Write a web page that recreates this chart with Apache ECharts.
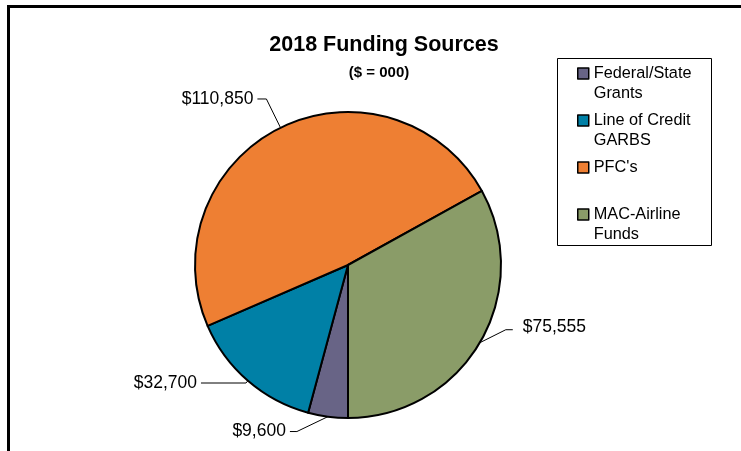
<!DOCTYPE html>
<html>
<head>
<meta charset="utf-8">
<title>2018 Funding Sources</title>
<script src="https://cdn.jsdelivr.net/npm/echarts@6/dist/echarts.min.js"></script>
<style>
  html, body { margin: 0; padding: 0; background: #fff; }
  #chart { width: 741px; height: 451px; }
</style>
</head>
<body>
<div id="chart"></div>
<script>
// Funding sources for 2018, in thousands of dollars
const categories = ['Federal/State Grants', 'Line of Credit GARBS', "PFC's", 'MAC-Airline Funds'];
const legendLines = ['Federal/State\nGrants', 'Line of Credit\nGARBS', "PFC's\n ", 'MAC-Airline\nFunds'];
const amounts = [9600, 32700, 110850, 75555];
const sliceColors = ['#686486', '#0080a6', '#ee7f33', '#8a9c68'];

const FONT = '"Liberation Sans", Arial, Helvetica, sans-serif';

// radial / horizontal leader lengths per slice
const leaderLen = [15, 3, 32, 5];
const leaderLen2 = [36, 45, 9, 10];

const fmtMoney = v => '$' + v.toLocaleString('en-US');

const chart = echarts.init(document.getElementById('chart'), null, { renderer: 'canvas' });

chart.setOption({
  animation: false,
  backgroundColor: '#fff',
  title: [
    {
      text: '2018 Funding Sources',
      left: 379, top: 29, textAlign: 'center',
      textStyle: { fontFamily: FONT, fontSize: 21.5, fontWeight: 'bold', color: '#000' }
    },
    {
      text: '($ = 000)',
      left: 374, top: 60, textAlign: 'center',
      textStyle: { fontFamily: FONT, fontSize: 15, fontWeight: 'bold', color: '#000' }
    }
  ],
  legend: {
    orient: 'vertical',
    left: 577, top: 43.5,
    padding: 0,
    itemWidth: 11, itemHeight: 11,
    itemGap: -13,
    icon: 'rect',
    selectedMode: false,
    itemStyle: { borderColor: '#000', borderWidth: 1.5 },
    data: categories,
    // a blank leading line keeps the swatch level with the first text line
    formatter: name => ' \n' + legendLines[categories.indexOf(name)],
    textStyle: { fontFamily: FONT, fontSize: 16.3, lineHeight: 20, color: '#000' }
  },
  graphic: [
    {
      // outer frame (left and top edges)
      type: 'polyline', silent: true,
      shape: { points: [[8.5, 451], [8.5, 6.5], [741, 6.5]] },
      style: { stroke: '#000', lineWidth: 3, fill: null }
    },
    {
      // legend box
      type: 'rect', silent: true, z: -1,
      shape: { x: 557.5, y: 58.5, width: 154, height: 187 },
      style: { stroke: '#000', lineWidth: 1, fill: '#fff' }
    }
  ],
  series: [{
    type: 'pie',
    center: [348, 265],
    radius: 153,
    startAngle: -90,
    clockwise: true,
    avoidLabelOverlap: false,
    emphasis: { disabled: true },
    itemStyle: { borderColor: '#000', borderWidth: 2 },
    label: {
      show: true,
      position: 'outside',
      distanceToLabelLine: 4,
      fontFamily: FONT, fontSize: 17.5, color: '#000',
      formatter: p => fmtMoney(p.value)
    },
    labelLine: { show: true, lineStyle: { color: '#000', width: 1 } },
    labelLayout: params => {
      const pts = params.labelLinePoints;
      if (!pts) return {};
      const edge = pts[0];
      const end = pts[2];
      if (params.dataIndex === 0) {
        // diagonal leader with a short horizontal tail
        return { labelLinePoints: [edge, [end[0] + 7, end[1]], end] };
      }
      if (params.dataIndex === 3) {
        // leader rises up and to the right of the slice
        const p1 = [edge[0] + 26, edge[1] - 13];
        const p2 = [p1[0] + 7, p1[1]];
        return { x: p2[0] + 10, y: p2[1] - 3, labelLinePoints: [edge, p1, p2] };
      }
      return {};
    },
    data: categories.map((name, i) => ({
      name,
      value: amounts[i],
      itemStyle: { color: sliceColors[i] },
      labelLine: { length: leaderLen[i], length2: leaderLen2[i] }
    }))
  }]
});
</script>
</body>
</html>
